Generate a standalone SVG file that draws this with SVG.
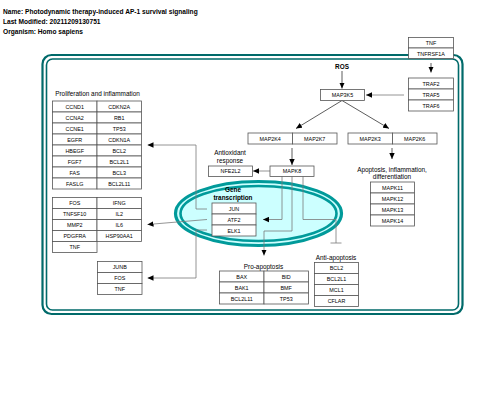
<svg xmlns="http://www.w3.org/2000/svg" width="480" height="406" viewBox="0 0 480 406">
<defs>
<style>
.box{fill:#fff;stroke:#555;stroke-width:0.8}
.t{font-family:"Liberation Sans",Arial,sans-serif;font-size:5.4px;text-anchor:middle;fill:#000}
.lbl{font-family:"Liberation Sans",Arial,sans-serif;font-size:6.4px;text-anchor:middle;fill:#000}
.hd{font-family:"Liberation Sans",Arial,sans-serif;font-size:6.6px;font-weight:bold;fill:#000}
.b{font-weight:bold}
.ln{fill:none;stroke:#7a7a7a;stroke-width:0.8}
.lnd{fill:none;stroke:#333;stroke-width:0.8}
.cell{fill:none;stroke:#006a6a}
</style>
<marker id="arr" markerUnits="userSpaceOnUse" markerWidth="6" markerHeight="6" refX="6" refY="3" orient="auto">
<path d="M0,0.3 L6,3 L0,5.7 z" fill="#000"/>
</marker>
</defs>
<rect width="480" height="406" fill="#fff"/>
<text class="hd" x="3" y="13.5">Name: Photodynamic therapy-induced AP-1 survival signaling</text>
<text class="hd" x="3" y="23.5">Last Modified: 20211209130751</text>
<text class="hd" x="3" y="33.5">Organism: Homo sapiens</text>

<g id="cell">
<rect class="cell" x="42.5" y="55" width="420" height="259" rx="9" stroke-width="2.2"/>
<rect class="cell" x="46.5" y="59" width="412" height="251" rx="6" stroke-width="1.6"/>
</g>

<g id="nucleus">
<ellipse cx="258.5" cy="213.5" rx="83" ry="32" fill="#ccffff" stroke="#009a9a" stroke-width="3.2"/>
<ellipse cx="258.5" cy="213.5" rx="78" ry="27.5" fill="none" stroke="#009a9a" stroke-width="2.6"/>
<text class="lbl b" x="233" y="192">Gene</text>
<text class="lbl b" x="233" y="200">transcription</text>
</g>

<g id="connectors">
<line class="lnd" x1="431" y1="63" x2="431" y2="72.5" marker-end="url(#arr)"/>
<line class="lnd" x1="342" y1="71" x2="342" y2="88.5" marker-end="url(#arr)"/>
<line class="ln" x1="404" y1="95" x2="366" y2="95" marker-end="url(#arr)"/>
<line class="lnd" x1="342" y1="100.5" x2="296" y2="128.5" marker-end="url(#arr)"/>
<line class="lnd" x1="342" y1="100.5" x2="389" y2="128.5" marker-end="url(#arr)"/>
<line class="lnd" x1="292" y1="148" x2="292" y2="165" marker-end="url(#arr)"/>
<line class="lnd" x1="392" y1="148" x2="392" y2="159" marker-end="url(#arr)"/>
<line class="ln" x1="270" y1="171" x2="253" y2="171" marker-end="url(#arr)"/>
<polyline class="ln" points="282,176 282,219.5 263,219.5" marker-end="url(#arr)"/>
<polyline class="ln" points="292,176 292,231 264,231 264,255.5" marker-end="url(#arr)"/>
<polyline class="ln" points="303,176 303,219.5 336,219.5 336,243"/>
<line class="ln" x1="330.5" y1="243" x2="341.5" y2="243"/>
<polyline class="ln" points="207,209 196,209 196,145 147.5,145" marker-end="url(#arr)"/>
<line class="ln" x1="207" y1="219.5" x2="147.5" y2="224.5" marker-end="url(#arr)"/>
<polyline class="ln" points="207,230 196,230 196,278 147.5,278" marker-end="url(#arr)"/>
</g>

<g id="ROS"><text class="lbl b" x="342" y="69">ROS</text></g>

<g id="TNF_TNFRSF1A">
<rect class="box" x="408.5" y="37.5" width="45" height="10.5"/>
<rect class="box" x="408.5" y="48" width="45" height="10.5"/>
<text class="t" x="431" y="45">TNF</text>
<text class="t" x="431" y="55.5">TNFRSF1A</text>
</g>

<g id="TRAF">
<rect class="box" x="408.5" y="78" width="45" height="11"/>
<rect class="box" x="408.5" y="89" width="45" height="11"/>
<rect class="box" x="408.5" y="100" width="45" height="11"/>
<text class="t" x="431" y="85.5">TRAF2</text>
<text class="t" x="431" y="96.5">TRAF5</text>
<text class="t" x="431" y="107.5">TRAF6</text>
</g>

<g id="MAP3K5">
<rect class="box" x="320.5" y="89.5" width="44" height="11"/>
<text class="t" x="342.5" y="97">MAP3K5</text>
</g>

<g id="MAP2K4_MAP2K7">
<rect class="box" x="248" y="133" width="44.5" height="11"/>
<rect class="box" x="292.5" y="133" width="44.5" height="11"/>
<text class="t" x="270.2" y="140.5">MAP2K4</text>
<text class="t" x="314.7" y="140.5">MAP2K7</text>
</g>

<g id="MAP2K3_MAP2K6">
<rect class="box" x="348" y="133" width="44.5" height="11"/>
<rect class="box" x="392.5" y="133" width="44.5" height="11"/>
<text class="t" x="370.2" y="140.5">MAP2K3</text>
<text class="t" x="414.7" y="140.5">MAP2K6</text>
</g>

<g id="MAPK8">
<rect class="box" x="270" y="166" width="44" height="10.5"/>
<text class="t" x="292" y="173.3">MAPK8</text>
</g>

<g id="NFE2L2">
<text class="lbl" x="230" y="155">Antioxidant</text>
<text class="lbl" x="230" y="163">response</text>
<rect class="box" x="208.5" y="166" width="44" height="10.5"/>
<text class="t" x="230.5" y="173.3">NFE2L2</text>
</g>

<g id="MAPK11_14">
<text class="lbl" x="392" y="172">Apoptosis, inflammation,</text>
<text class="lbl" x="392" y="179">differentiation</text>
<rect class="box" x="370.5" y="182" width="44" height="11"/>
<rect class="box" x="370.5" y="193" width="44" height="11"/>
<rect class="box" x="370.5" y="204" width="44" height="11"/>
<rect class="box" x="370.5" y="215" width="44" height="11"/>
<text class="t" x="392.5" y="189.5">MAPK11</text>
<text class="t" x="392.5" y="200.5">MAPK12</text>
<text class="t" x="392.5" y="211.5">MAPK13</text>
<text class="t" x="392.5" y="222.5">MAPK14</text>
</g>

<g id="JUN_ATF2_ELK1">
<rect class="box" x="212" y="203" width="44" height="11"/>
<rect class="box" x="212" y="214" width="44" height="11"/>
<rect class="box" x="212" y="225" width="44" height="11"/>
<text class="t" x="234" y="210.5">JUN</text>
<text class="t" x="234" y="221.5">ATF2</text>
<text class="t" x="234" y="232.5">ELK1</text>
</g>

<g id="proliferation">
<text class="lbl" x="97.5" y="96">Proliferation and inflammation</text>
<g>
<rect class="box" x="52.5" y="101" width="44.5" height="11"/><rect class="box" x="97" y="101" width="44.5" height="11"/>
<rect class="box" x="52.5" y="112" width="44.5" height="11"/><rect class="box" x="97" y="112" width="44.5" height="11"/>
<rect class="box" x="52.5" y="123" width="44.5" height="11"/><rect class="box" x="97" y="123" width="44.5" height="11"/>
<rect class="box" x="52.5" y="134" width="44.5" height="11"/><rect class="box" x="97" y="134" width="44.5" height="11"/>
<rect class="box" x="52.5" y="145" width="44.5" height="11"/><rect class="box" x="97" y="145" width="44.5" height="11"/>
<rect class="box" x="52.5" y="156" width="44.5" height="11"/><rect class="box" x="97" y="156" width="44.5" height="11"/>
<rect class="box" x="52.5" y="167" width="44.5" height="11"/><rect class="box" x="97" y="167" width="44.5" height="11"/>
<rect class="box" x="52.5" y="178" width="44.5" height="11"/><rect class="box" x="97" y="178" width="44.5" height="11"/>
</g>
<text class="t" x="74.7" y="108.5">CCND1</text><text class="t" x="119.2" y="108.5">CDKN2A</text>
<text class="t" x="74.7" y="119.5">CCNA2</text><text class="t" x="119.2" y="119.5">RB1</text>
<text class="t" x="74.7" y="130.5">CCNE1</text><text class="t" x="119.2" y="130.5">TP53</text>
<text class="t" x="74.7" y="141.5">EGFR</text><text class="t" x="119.2" y="141.5">CDKN1A</text>
<text class="t" x="74.7" y="152.5">HBEGF</text><text class="t" x="119.2" y="152.5">BCL2</text>
<text class="t" x="74.7" y="163.5">FGF7</text><text class="t" x="119.2" y="163.5">BCL2L1</text>
<text class="t" x="74.7" y="174.5">FAS</text><text class="t" x="119.2" y="174.5">BCL3</text>
<text class="t" x="74.7" y="185.5">FASLG</text><text class="t" x="119.2" y="185.5">BCL2L11</text>
</g>

<g id="cytokines">
<rect class="box" x="52.5" y="197.5" width="44.5" height="11"/><rect class="box" x="97" y="197.5" width="44.5" height="11"/>
<rect class="box" x="52.5" y="208.5" width="44.5" height="11"/><rect class="box" x="97" y="208.5" width="44.5" height="11"/>
<rect class="box" x="52.5" y="219.5" width="44.5" height="11"/><rect class="box" x="97" y="219.5" width="44.5" height="11"/>
<rect class="box" x="52.5" y="230.5" width="44.5" height="11"/><rect class="box" x="97" y="230.5" width="44.5" height="11"/>
<rect class="box" x="52.5" y="241.5" width="44.5" height="11"/>
<text class="t" x="74.7" y="205">FOS</text><text class="t" x="119.2" y="205">IFNG</text>
<text class="t" x="74.7" y="216">TNFSF10</text><text class="t" x="119.2" y="216">IL2</text>
<text class="t" x="74.7" y="227">MMP2</text><text class="t" x="119.2" y="227">IL6</text>
<text class="t" x="74.7" y="238">PDGFRA</text><text class="t" x="119.2" y="238">HSP90AA1</text>
<text class="t" x="74.7" y="249">TNF</text>
</g>

<g id="JUNB_FOS_TNF">
<rect class="box" x="97.5" y="261.5" width="44.5" height="11"/>
<rect class="box" x="97.5" y="272.5" width="44.5" height="11"/>
<rect class="box" x="97.5" y="283.5" width="44.5" height="11"/>
<text class="t" x="119.7" y="269">JUNB</text>
<text class="t" x="119.7" y="280">FOS</text>
<text class="t" x="119.7" y="291">TNF</text>
</g>

<g id="pro_apoptosis">
<text class="lbl" x="263.5" y="268.5">Pro-apoptosis</text>
<rect class="box" x="219.5" y="271" width="44.5" height="11"/><rect class="box" x="264" y="271" width="44.5" height="11"/>
<rect class="box" x="219.5" y="282" width="44.5" height="11"/><rect class="box" x="264" y="282" width="44.5" height="11"/>
<rect class="box" x="219.5" y="293" width="44.5" height="11"/><rect class="box" x="264" y="293" width="44.5" height="11"/>
<text class="t" x="241.7" y="278.5">BAX</text><text class="t" x="286.2" y="278.5">BID</text>
<text class="t" x="241.7" y="289.5">BAK1</text><text class="t" x="286.2" y="289.5">BMF</text>
<text class="t" x="241.7" y="300.5">BCL2L11</text><text class="t" x="286.2" y="300.5">TP53</text>
</g>

<g id="anti_apoptosis">
<text class="lbl" x="336" y="259.5">Anti-apoptosis</text>
<rect class="box" x="314.5" y="262.5" width="44" height="11"/>
<rect class="box" x="314.5" y="273.5" width="44" height="11"/>
<rect class="box" x="314.5" y="284.5" width="44" height="11"/>
<rect class="box" x="314.5" y="295.5" width="44" height="11"/>
<text class="t" x="336.5" y="270">BCL2</text>
<text class="t" x="336.5" y="281">BCL2L1</text>
<text class="t" x="336.5" y="292">MCL1</text>
<text class="t" x="336.5" y="303">CFLAR</text>
</g>
</svg>
